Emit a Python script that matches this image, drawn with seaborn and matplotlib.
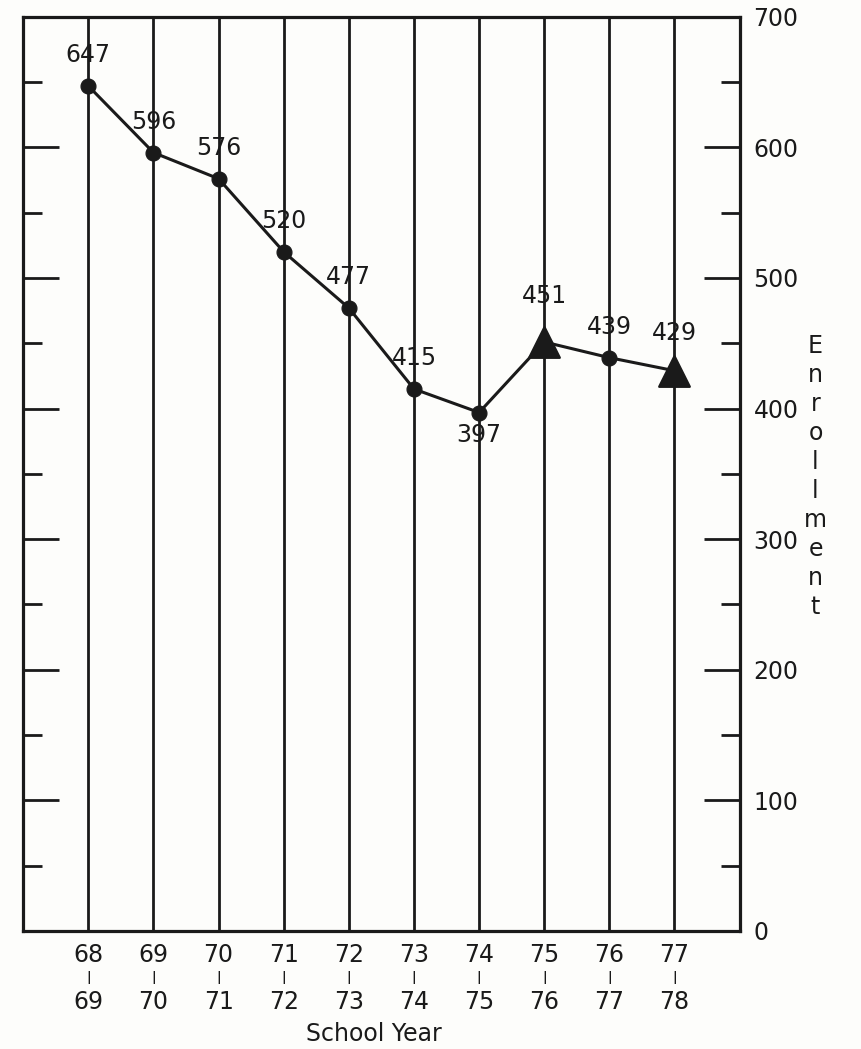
import numpy as np
import pandas as pd
import seaborn as sns
import matplotlib.pyplot as plt
from matplotlib.ticker import MultipleLocator
from matplotlib.transforms import blended_transform_factory

# Enrollment by school year
start_years = ["68", "69", "70", "71", "72", "73", "74", "75", "76", "77"]
end_years = ["69", "70", "71", "72", "73", "74", "75", "76", "77", "78"]
enrollment = [647, 596, 576, 520, 477, 415, 397, 451, 439, 429]
point_kind = ["actual", "actual", "actual", "actual", "actual",
              "actual", "actual", "other", "actual", "other"]

sns.set_style("white")
plt.rcParams["font.family"] = ["DejaVu Sans"]

df = pd.DataFrame({"pos": np.arange(len(enrollment)),
                   "enrollment": enrollment,
                   "kind": point_kind})

fig = plt.figure(figsize=(8.61, 10.49), dpi=100)
fig.patch.set_facecolor("#fdfdfb")
ax = fig.add_axes([0.027, 0.1125, 0.832, 0.8715])
ax.set_facecolor("#fdfdfb")

# vertical year lines
for p in df["pos"]:
    ax.axvline(p, color="#1a1a1a", lw=2.0, zorder=1)

sns.lineplot(data=df, x="pos", y="enrollment", color="#1a1a1a", lw=2.2,
             ax=ax, zorder=3)
sns.scatterplot(data=df[df["kind"] == "actual"], x="pos", y="enrollment",
                marker="o", s=115, color="#1a1a1a", edgecolor="#1a1a1a",
                ax=ax, zorder=4, legend=False)
sns.scatterplot(data=df[df["kind"] == "other"], x="pos", y="enrollment",
                marker="^", s=480, color="#1a1a1a", edgecolor="#1a1a1a",
                ax=ax, zorder=4, legend=False)

# value labels
for p, v in zip(df["pos"], df["enrollment"]):
    if v == 397:
        off = -16
    elif v == 451:
        off = 33
    elif v == 429:
        off = 27
    else:
        off = 22
    ax.annotate(str(v), (p, v), xytext=(0, off), textcoords="offset points",
                ha="center", va="center", fontsize=17, color="#1a1a1a")

ax.set_xlim(-1, 10)
ax.set_ylim(0, 700)

for s in ax.spines.values():
    s.set_visible(True)
    s.set_color("#1a1a1a")
    s.set_linewidth(2.3)

# y axis on the right, ticks inward on both sides
ax.yaxis.tick_right()
ax.yaxis.set_major_locator(MultipleLocator(100))
ax.yaxis.set_minor_locator(MultipleLocator(50))
ax.tick_params(axis="y", which="both", direction="in", left=True, right=True,
               labelleft=False, labelright=True, color="#1a1a1a", width=2)
ax.tick_params(axis="y", which="major", length=26, pad=10, labelsize=17,
               labelcolor="#1a1a1a")
ax.tick_params(axis="y", which="minor", length=14)
ax.set_ylabel("")

# x labels: two-row school years
ax.set_xticks([])
ax.set_xlabel("")
trans = blended_transform_factory(ax.transData, ax.transAxes)
for p, a, b in zip(df["pos"], start_years, end_years):
    ax.text(p, -0.026, a, transform=trans, ha="center", va="center",
            fontsize=17, color="#1a1a1a")
    ax.text(p, -0.0505, "|", transform=trans, ha="center", va="center",
            fontsize=9, fontweight="bold", color="#1a1a1a")
    ax.text(p, -0.078, b, transform=trans, ha="center", va="center",
            fontsize=17, color="#1a1a1a")
ax.text(0.49, -0.113, "School Year", transform=ax.transAxes, ha="center",
        va="center", fontsize=17, color="#1a1a1a")

# vertical stacked axis title
ax.text(1.106, 0.497, "\n".join("Enrollment"), transform=ax.transAxes,
        ha="center", va="center", fontsize=17, linespacing=1.26,
        color="#1a1a1a")

fig.savefig("out.png", dpi=100, facecolor=fig.get_facecolor())
